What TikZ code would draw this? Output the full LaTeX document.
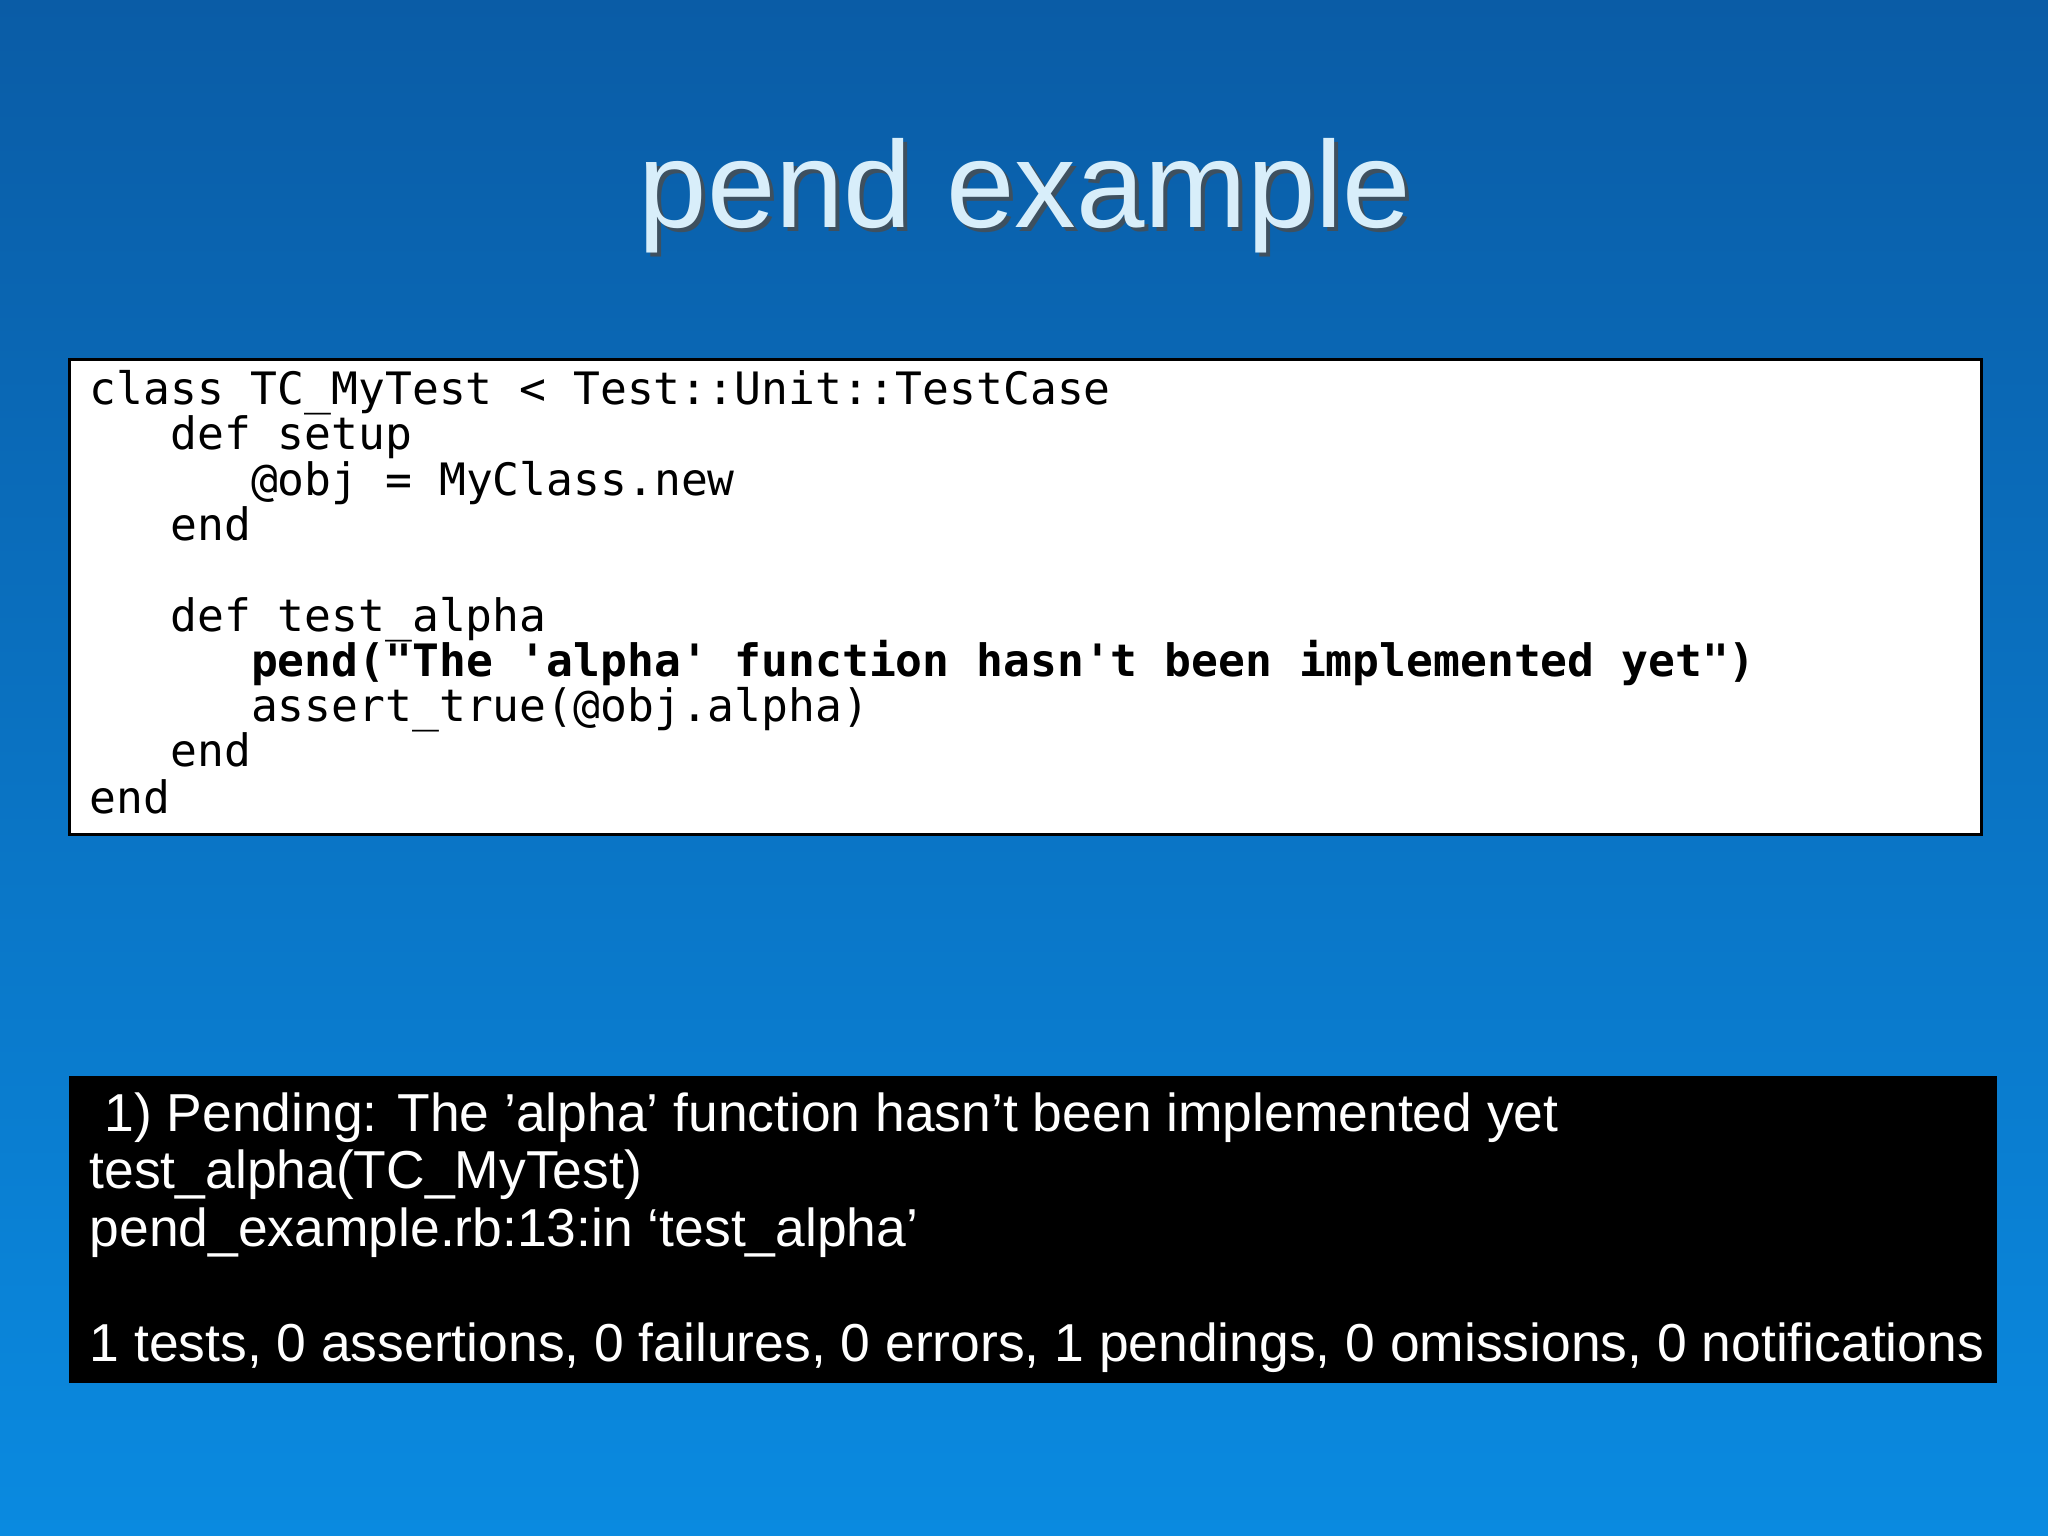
\documentclass[tikz,border=0pt]{standalone}
\usepackage{fontspec}
\setmainfont{Liberation Sans}
\setmonofont{DejaVu Sans Mono}
\definecolor{bgtop}{HTML}{0A5CA6}
\definecolor{bgbot}{HTML}{0A8AE0}
\definecolor{titlec}{HTML}{D8EEFA}
\begin{document}
\begin{tikzpicture}[x=1cm,y=1cm,
  code/.style={anchor=base west,inner sep=0pt,font=\fontsize{12.7}{14}\ttfamily},
  outtext/.style={anchor=base west,inner sep=0pt,text=white,font=\fontsize{15.2}{17}\selectfont}]
\useasboundingbox (0,0) rectangle (20.48,-15.36);
\shade[top color=bgtop,bottom color=bgbot] (0,0) rectangle (20.48,-15.36);
\node[anchor=center,text=black!70,opacity=0.8,font=\fontsize{35}{40}\selectfont] at (10.29,-2.00) {pend example};
\node[anchor=center,text=titlec,font=\fontsize{35}{40}\selectfont] (title) at (10.25,-1.96) {pend example};
\node[draw=black,fill=white,line width=0.8pt,minimum width=19.12cm,minimum height=4.75cm,anchor=north west,inner sep=0pt] (codebox) at (0.68,-3.58) {};
\def\cw{0.269}
\node[code] (l1) at (0.89,-4.05) {class TC\_MyTest < Test::Unit::TestCase};
\node[code] (l2) at (0.89+3*\cw,-4.50) {def setup};
\node[code] (l3) at (0.89+6*\cw,-4.96) {@obj = MyClass.new};
\node[code] (l4) at (0.89+3*\cw,-5.41) {end};
\node[code] (l6) at (0.89+3*\cw,-6.32) {def test\_alpha};
\node[code,font=\fontsize{12.7}{14}\ttfamily\bfseries] (l7) at (0.89+6*\cw,-6.77) {pend("The 'alpha' function hasn't been implemented yet")};
\node[code] (l8) at (0.89+6*\cw,-7.22) {assert\_true(@obj.alpha)};
\node[code] (l9) at (0.89+3*\cw,-7.67) {end};
\node[code] (l10) at (0.89,-8.13) {end};
\node[fill=black,minimum width=19.28cm,minimum height=3.07cm,anchor=north west,inner sep=0pt] (outbox) at (0.68,-10.75) {};
\node[outtext] (o1) at (0.89,-11.31) {\ 1) Pending: The 'alpha' function hasn't been implemented yet};
\node[outtext] (o2) at (0.89,-11.88) {test\_alpha(TC\_MyTest)};
\node[outtext] (o3) at (0.89,-12.46) {pend\_example.rb:13:in `test\_alpha'};
\node[outtext] (o4) at (0.89,-13.61) {1 tests, 0 assertions, 0 failures, 0 errors, 1 pendings, 0 omissions, 0 notifications};
\end{tikzpicture}
\end{document}
